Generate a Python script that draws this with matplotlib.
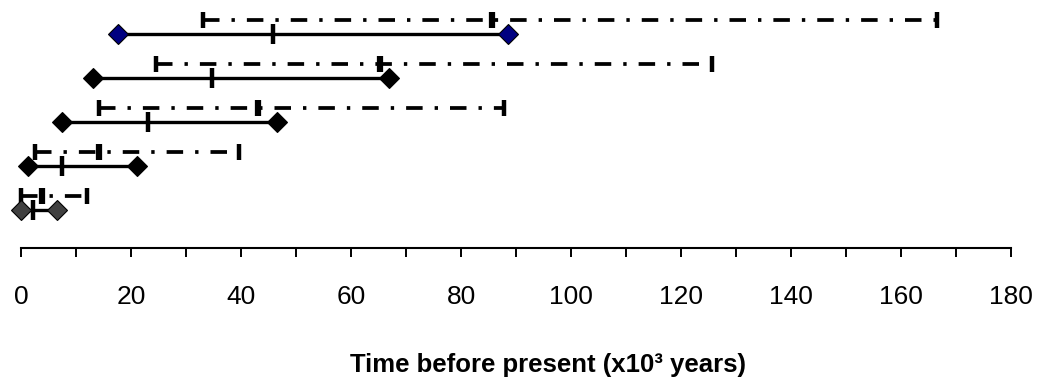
import matplotlib
matplotlib.use("Agg")
import matplotlib.pyplot as plt
from matplotlib.ticker import MultipleLocator

plt.rcParams['font.family'] = ['Liberation Sans', 'DejaVu Sans']

# solid ranges (x10^3 years), top row first
solid_low = [17.6, 13.1, 7.4, 1.3, 0.0]
solid_mid = [45.8, 34.8, 23.1, 7.4, 2.1]
solid_high = [88.5, 66.9, 46.5, 21.0, 6.6]
# dash-dot ranges
dash_low = [33.1, 24.5, 14.2, 2.5, 0.0]
dash_mid = [85.6, 65.3, 43.1, 14.2, 3.9]
dash_high = [166.5, 125.7, 87.8, 39.7, 12.0]
diamond_colors = ['#000080', 'black', 'black', 'black', '#404040']

W, H = 1041, 381
fig = plt.figure(figsize=(W/100, H/100), dpi=100)
ax = fig.add_axes([21/W, 133/H, 990/W, 248/H])

off = 0.32
n = len(solid_low)
for i in range(n):
    y = n - i
    # dash-dot interval
    yd = y + off
    ax.plot([dash_low[i], dash_high[i]], [yd, yd], color='black', lw=2.7,
            linestyle=(0, (4.4, 3.2, 0.9, 3.2)), clip_on=False)
    ax.plot([dash_low[i], dash_high[i]], [yd, yd], ls='none', marker='|', ms=11,
            mew=3.2, color='black', clip_on=False)
    ax.plot([dash_mid[i]], [yd], ls='none', marker='|', ms=12, mew=4.5,
            color='black', clip_on=False)
    # solid interval
    ax.plot([solid_low[i], solid_high[i]], [y, y], color='black', lw=2.4,
            solid_capstyle='butt', clip_on=False)
    ax.plot([solid_mid[i]], [y], ls='none', marker='|', ms=14, mew=3.2,
            color='black', clip_on=False)
    ax.plot([solid_low[i], solid_high[i]], [y, y], ls='none', marker='D', ms=10,
            mfc=diamond_colors[i], mec='black', mew=0.8, clip_on=False, zorder=4)

ax.set_xlim(0, 180)
ax.set_ylim(1 - 38/44, 1 - 38/44 + 248/44)
for s in ['left', 'right', 'top']:
    ax.spines[s].set_visible(False)
ax.spines['bottom'].set_linewidth(1.5)
ax.set_yticks([])
ax.xaxis.set_major_locator(MultipleLocator(20))
ax.xaxis.set_minor_locator(MultipleLocator(10))
ax.tick_params(axis='x', which='both', direction='out', length=6.5, width=1.4)
ax.tick_params(axis='x', which='major', labelsize=19, pad=20)

ax.set_xlabel('Time before present (x10³ years)', fontsize=18.5, fontweight='bold')
ax.xaxis.set_label_coords((548 - 21) / 990, (16 - 133) / 248)
ax.xaxis.label.set_va('center')

fig.savefig('out.png', dpi=100)
